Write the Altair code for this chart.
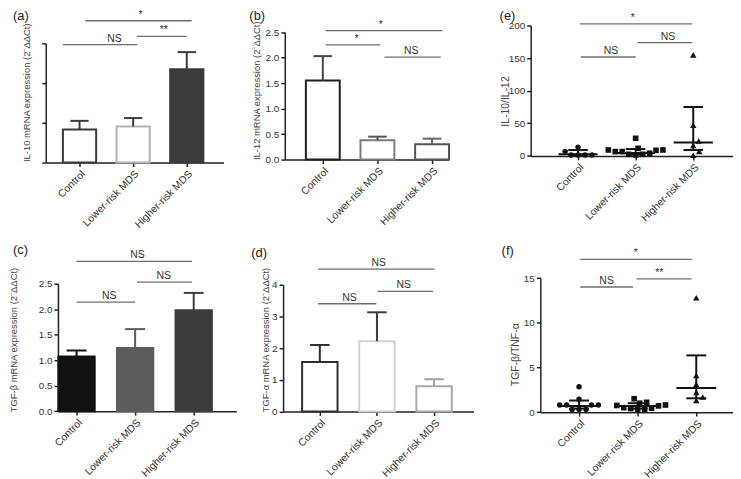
import json
import altair as alt
import pandas as pd

# ---------------- data ----------------
groups = ["Control", "Lower-risk MDS", "Higher-risk MDS"]

# bar panels: mean and top of the error bar
il10_mean = [0.83, 0.91, 2.35]
il10_upper = [1.05, 1.12, 2.78]
il12_mean = [1.55, 0.38, 0.30]
il12_upper = [2.03, 0.45, 0.41]
tgfb_mean = [1.07, 1.24, 1.98]
tgfb_upper = [1.19, 1.61, 2.32]
tnfa_mean = [1.56, 2.22, 0.80]
tnfa_upper = [2.10, 3.13, 1.02]

# scatter panels: individual ratios, median and interquartile range
e_ctrl = [13.5, 7.0, 1.5, 1.5, 1.5, 1.5]
e_low = [27.0, 11.7, 9.1, 9.1, 8.6, 6.6, 6.6, 4.1, 2.5, 2.5, 1.5]
e_high = [155.0, 47.0, 23.0, 16.0, 7.0, 1.0]
e_med = [2.5, 4.5, 20.5]
e_q1 = [1.0, 2.0, 9.0]
e_q3 = [9.0, 10.5, 75.0]

f_ctrl = [2.85, 1.45, 0.8, 0.8, 0.8, 0.8, 0.3, 0.3, 0.3]
f_low = [1.5, 1.1, 1.0, 0.8, 0.75, 0.7, 0.5, 0.45, 0.4, 0.3, 0.25]
f_high = [12.8, 4.1, 3.1, 2.2, 1.7, 1.3]
f_med = [0.7, 0.7, 2.7]
f_q1 = [0.4, 0.4, 1.55]
f_q3 = [1.3, 1.0, 6.35]

# significance comparisons (from, to, label)
sig_a = [(0, 2, "*"), (1, 2, "**"), (0, 1, "NS")]
sig_b = [(0, 2, "*"), (0, 1, "*"), (1, 2, "NS")]
sig_c = [(0, 2, "NS"), (1, 2, "NS"), (0, 1, "NS")]
sig_d = [(0, 2, "NS"), (1, 2, "NS"), (0, 1, "NS")]
sig_e = [(0, 2, "*"), (1, 2, "NS"), (0, 1, "NS")]
sig_f = [(0, 2, "*"), (1, 2, "**"), (0, 1, "NS")]

# ---------------- layout / style ----------------
W, H = 725, 463
FONT = "Liberation Sans"
label_expr = json.dumps(groups) + "[datum.value]"
DELTA = "(2⁻ΔΔCt)"

layout = {
    "a": dict(xr=[33, 212], xd=[-0.630, 2.685], yr=[154, 34], yd=[0, 3], ticks=[0, 1, 2, 3],
              fmt="d", labels=False, title="IL-10 mRNA expression " + DELTA, tfs=9.5,
              tx=-14, ty=153, ta="left", letter=(0, 0),
              sig=[(0.11, 2.09, 3.57, 1.14), (1.07, 2.0, 3.175, 1.57), (-0.31, 1.08, 2.97, 0.65)]),
    "b": dict(xr=[273.7, 438.7], xd=[-0.696, 2.304], yr=[151, 22.7], yd=[0, 2.5],
              ticks=[0, 0.5, 1, 1.5, 2, 2.5], fmt=".1f", labels=True, tfs=9.5,
              title="IL-12 mRNA expression " + DELTA, tx=-23, ty=151, ta="left", letter=(238, 0),
              sig=[(0.05, 2.19, 2.53, 1.06), (0.05, 1.05, 2.25, 0.62), (1.13, 2.16, 2.01, 1.62)]),
    "e": dict(xr=[521.3, 725], xd=[-0.822, 2.690], yr=[147.3, 16], yd=[0, 200],
              ticks=[0, 50, 100, 150, 200], fmt="d", labels=True, title="IL-10/IL-12", tfs=10.5,
              tx=-20, ty=92, ta="center", letter=(490, 0),
              sig=[(0.03, 1.98, 202.6, 0.95), (1.03, 1.98, 173.6, 1.56), (0.05, 1.0, 151.7, 0.57)]),
    "c": dict(xr=[45.3, 225], xd=[-0.317, 2.729], yr=[404.3, 276], yd=[0, 2.5],
              ticks=[0, 0.5, 1, 1.5, 2, 2.5], fmt=".1f", labels=True, tfs=9.5,
              title="TGF-β mRNA expression " + DELTA, tx=-40, ty=405, ta="left", letter=(0, 236),
              sig=[(0.0, 1.97, 2.94, 1.04), (1.03, 1.97, 2.53, 1.49), (0.0, 1.0, 2.14, 0.56)]),
    "d": dict(xr=[272, 463.7], xd=[-0.643, 2.690], yr=[404.7, 277], yd=[0, 4],
              ticks=[0, 1, 2, 3, 4], fmt="d", labels=True, tfs=9.5,
              title="TGF-α mRNA expression " + DELTA, tx=-13, ty=405, ta="left", letter=(240, 239),
              sig=[(-0.03, 2.01, 4.49, 1.03), (1.01, 1.98, 3.79, 1.47), (-0.03, 0.99, 3.40, 0.52)]),
    "f": dict(xr=[531, 725], xd=[-0.661, 2.627], yr=[405.3, 270.3], yd=[0, 15],
              ticks=[0, 5, 10, 15], fmt="d", labels=True, title="TGF-β/TNF-α", tfs=10.5,
              tx=-20, ty=347, ta="center", letter=(492, 237),
              sig=[(0.02, 1.93, 17.1, 0.97), (0.98, 1.92, 14.9, 1.37), (0.02, 0.92, 14.0, 0.47)]),
}

bar_styles = {
    "a": dict(fill=["#ffffff", "#ffffff", "#3b3b3b"], stroke=["#3b3b3b", "#b3b3b3", "#3b3b3b"],
              err=["#3b3b3b", "#3b3b3b", "#3b3b3b"]),
    "b": dict(fill=["#ffffff", "#ffffff", "#ffffff"], stroke=["#1e1e1e", "#7a7a7a", "#555555"],
              err=["#444444", "#555555", "#666666"]),
    "c": dict(fill=["#111111", "#5c5c5c", "#3c3c3c"], stroke=["#111111", "#5c5c5c", "#3c3c3c"],
              err=["#111111", "#5c5c5c", "#3c3c3c"]),
    "d": dict(fill=["#ffffff", "#ffffff", "#ffffff"], stroke=["#2e2e2e", "#d0d0d0", "#a8a8a8"],
              err=["#2e2e2e", "#3a3a3a", "#a0a0a0"]),
}
BAR_HALF = 0.31
CAP_HALF = 0.17
MED_HALF = 0.34
IQR_HALF = 0.17
SIG_COLOR = "#6e6e6e"
marker_shapes = ["circle", "square", "triangle-up"]
marker_sizes = [30, 32, 42]


def scales(L):
    xs = alt.Scale(domain=L["xd"], range=L["xr"], nice=False, zero=False)
    ys = alt.Scale(domain=L["yd"], range=L["yr"], nice=False, zero=False)
    xaxis = alt.Axis(orient="bottom", offset=L["yr"][0] - H, values=[0, 1, 2], labelExpr=label_expr,
                     labelAngle=-45, labelAlign="right", labelBaseline="top", labelOverlap=False,
                     labelFontSize=10.5, title=None, grid=False)
    yaxis = alt.Axis(orient="left", offset=-L["xr"][0], values=L["ticks"], format=L["fmt"],
                     labels=L["labels"], title=L["title"], titleX=L["tx"], titleY=L["ty"],
                     titleAlign=L["ta"], titleBaseline="bottom", titleAngle=270,
                     titleFontSize=L["tfs"], labelOverlap=False, grid=False)
    return xs, ys, xaxis, yaxis


def extras(key, xs, ys, sig):
    L = layout[key]
    rows = []
    for (a, b, lab), (x0, x1, y, tx) in zip(sig, L["sig"]):
        rows.append(dict(x0=x0, x1=x1, y=y, tx=tx, label=lab))
    sdf = pd.DataFrame(rows)
    lines = alt.Chart(sdf).mark_rule(color=SIG_COLOR, strokeWidth=1.3).encode(
        x=alt.X("x0:Q", scale=xs, axis=None), x2="x1:Q", y=alt.Y("y:Q", scale=ys, axis=None))
    txt = alt.Chart(sdf).mark_text(baseline="bottom", dy=-1, fontSize=10.5, font=FONT,
                                   color="#333333").encode(
        x=alt.X("tx:Q", scale=xs, axis=None), y=alt.Y("y:Q", scale=ys, axis=None), text="label:N")
    lx, ly = L["letter"]
    letter = alt.Chart(pd.DataFrame({"t": ["(" + key + ")"]})).mark_text(
        align="left", baseline="top", fontSize=13, font=FONT, color="#222222").encode(
        x=alt.value(lx), y=alt.value(ly), text="t:N")
    return [lines, txt, letter]


def bar_panel(key, mean, upper, sig):
    L = layout[key]
    S = bar_styles[key]
    xs, ys, xaxis, yaxis = scales(L)
    df = pd.DataFrame({"i": [0, 1, 2], "group": groups, "mean": mean, "upper": upper,
                       "fill": S["fill"], "stroke": S["stroke"], "ecol": S["err"]})
    df["lo"] = df["i"] - BAR_HALF
    df["hi"] = df["i"] + BAR_HALF
    df["clo"] = df["i"] - CAP_HALF
    df["chi"] = df["i"] + CAP_HALF
    df["zero"] = 0.0
    base = alt.Chart(df)
    bars = base.mark_rect(strokeWidth=2).encode(
        x=alt.X("lo:Q", scale=xs, axis=xaxis), x2="hi:Q",
        y=alt.Y("mean:Q", scale=ys, axis=yaxis), y2="zero:Q",
        fill=alt.Fill("fill:N", scale=None), stroke=alt.Stroke("stroke:N", scale=None))
    evert = base.mark_rule(strokeWidth=2).encode(
        x=alt.X("i:Q", scale=xs, axis=None), y=alt.Y("mean:Q", scale=ys, axis=None), y2="upper:Q",
        color=alt.Color("ecol:N", scale=None))
    ecap = base.mark_rule(strokeWidth=2).encode(
        x=alt.X("clo:Q", scale=xs, axis=None), x2="chi:Q", y=alt.Y("upper:Q", scale=ys, axis=None),
        color=alt.Color("ecol:N", scale=None))
    return [bars, evert, ecap] + extras(key, xs, ys, sig)


def swarm(vals, ppu, spacing, diam=7.0):
    placed = []
    res = [0.0] * len(vals)
    cands = [0.0]
    for j in range(1, 120):
        cands += [j * 0.5, -j * 0.5]
    for k in sorted(range(len(vals)), key=lambda k: vals[k]):
        y = vals[k] * ppu
        for c in cands:
            if all((c - px) ** 2 + (y - py) ** 2 >= diam ** 2 for px, py in placed):
                break
        placed.append((c, y))
        res[k] = c / spacing
    return res


def scatter_panel(key, series, med, q1, q3, sig):
    L = layout[key]
    xs, ys, xaxis, yaxis = scales(L)
    ppu = (L["yr"][0] - L["yr"][1]) / (L["yd"][1] - L["yd"][0])
    spacing = (L["xr"][1] - L["xr"][0]) / (L["xd"][1] - L["xd"][0])
    rows = []
    for gi, vals in enumerate(series):
        offs = swarm(vals, ppu, spacing)
        for v, o in zip(vals, offs):
            rows.append(dict(xp=gi + o, v=v, shape=marker_shapes[gi], size=marker_sizes[gi]))
    pdf = pd.DataFrame(rows)
    sdf = pd.DataFrame({"i": [0, 1, 2], "med": med, "q1": q1, "q3": q3})
    sdf["mlo"] = sdf["i"] - MED_HALF
    sdf["mhi"] = sdf["i"] + MED_HALF
    sdf["qlo"] = sdf["i"] - IQR_HALF
    sdf["qhi"] = sdf["i"] + IQR_HALF
    pts = alt.Chart(pdf).mark_point(filled=True, color="#111111", opacity=1).encode(
        x=alt.X("xp:Q", scale=xs, axis=xaxis), y=alt.Y("v:Q", scale=ys, axis=yaxis),
        shape=alt.Shape("shape:N", scale=None), size=alt.Size("size:Q", scale=None))
    sb = alt.Chart(sdf)
    vline = sb.mark_rule(color="#111111", strokeWidth=2).encode(
        x=alt.X("i:Q", scale=xs, axis=None), y=alt.Y("q1:Q", scale=ys, axis=None), y2="q3:Q")
    mline = sb.mark_rule(color="#111111", strokeWidth=2).encode(
        x=alt.X("mlo:Q", scale=xs, axis=None), x2="mhi:Q", y=alt.Y("med:Q", scale=ys, axis=None))
    q1line = sb.mark_rule(color="#111111", strokeWidth=2).encode(
        x=alt.X("qlo:Q", scale=xs, axis=None), x2="qhi:Q", y=alt.Y("q1:Q", scale=ys, axis=None))
    q3line = sb.mark_rule(color="#111111", strokeWidth=2).encode(
        x=alt.X("qlo:Q", scale=xs, axis=None), x2="qhi:Q", y=alt.Y("q3:Q", scale=ys, axis=None))
    return [pts, vline, mline, q1line, q3line] + extras(key, xs, ys, sig)


units = (
    bar_panel("a", il10_mean, il10_upper, sig_a)
    + bar_panel("b", il12_mean, il12_upper, sig_b)
    + scatter_panel("e", [e_ctrl, e_low, e_high], e_med, e_q1, e_q3, sig_e)
    + bar_panel("c", tgfb_mean, tgfb_upper, sig_c)
    + bar_panel("d", tnfa_mean, tnfa_upper, sig_d)
    + scatter_panel("f", [f_ctrl, f_low, f_high], f_med, f_q1, f_q3, sig_f)
)

chart = alt.layer(*units).resolve_scale(
    x="independent", y="independent"
).resolve_axis(
    x="independent", y="independent"
).properties(
    width=W, height=H, padding=0
).configure_view(
    stroke=None
).configure_axis(
    domainColor="#222222", domainWidth=1.5, tickColor="#222222", tickWidth=1.5, tickSize=4,
    labelFont=FONT, labelFontSize=10, labelColor="#333333", labelPadding=2,
    titleFont=FONT, titleFontSize=10, titleFontWeight="normal", titleColor="#444444"
)

chart.save("out.html", embed_options={"renderer": "svg", "actions": False})
